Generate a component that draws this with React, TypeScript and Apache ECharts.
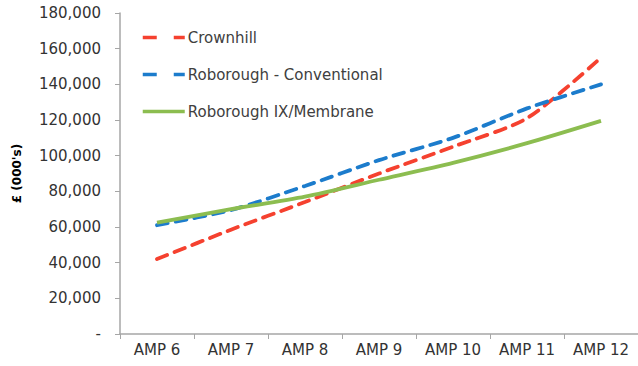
import React, { useEffect, useRef } from "react";
import * as echarts from "echarts";

const categories = ["AMP 6", "AMP 7", "AMP 8", "AMP 9", "AMP 10", "AMP 11", "AMP 12"];
const crownhill = [42000, 58500, 74000, 90000, 105000, 121000, 155000];
const roboroughConventional = [61000, 69500, 83000, 97500, 110000, 126500, 140000];
const roboroughMembrane = [62500, 70000, 77000, 86500, 96000, 107000, 119500];

const seriesNames = ["Crownhill", "Roborough - Conventional", "Roborough IX/Membrane"];
const yTicks = { min: 0, max: 180000, interval: 20000 };

export default function App() {
  const ref = useRef<HTMLDivElement>(null);
  useEffect(() => {
    document.body.style.margin = "0";
    const chart = echarts.init(ref.current!, null, { renderer: "svg" });
    const font = "'DejaVu Sans', 'Liberation Sans', Arial, sans-serif";
    const colors = ["#f5412f", "#1c7ccc", "#8cbd50"];
    const mk = (name: string, data: number[], color: string, dashed: boolean) => ({
      name,
      type: "line",
      data,
      smooth: 0.25,
      symbol: "none",
      lineStyle: {
        color,
        width: 3.8,
        type: dashed ? [11, 8] : "solid",
        cap: dashed ? "round" : "butt",
      },
      itemStyle: { color },
    });
    chart.setOption({
      animation: false,
      backgroundColor: "#ffffff",
      grid: { left: 120, right: -3, top: 13, bottom: 32, containLabel: false },
      legend: {
        orient: "vertical",
        left: 141,
        top: 30,
        padding: 0,
        itemWidth: 42,
        itemHeight: 14,
        itemGap: 22,
        itemStyle: { opacity: 0 },
        data: seriesNames.map((n, i) => ({
          name: n,
          lineStyle: {
            color: colors[i],
            width: 3.5,
            type: i < 2 ? [14, 17] : "solid",
            cap: "butt",
          },
        })),
        textStyle: { fontSize: 15, color: "#404040", fontFamily: font, padding: [0, 0, 0, -2] },
      },
      xAxis: {
        type: "category",
        data: categories,
        boundaryGap: true,
        axisLine: { lineStyle: { color: "#a6a6a6", width: 1.5 } },
        axisTick: { show: true, length: 5, lineStyle: { color: "#a6a6a6" } },
        axisLabel: { fontSize: 15, color: "#333333", fontFamily: font, margin: 8 },
        splitLine: { show: false },
      },
      yAxis: {
        type: "value",
        min: yTicks.min,
        max: yTicks.max,
        interval: yTicks.interval,
        name: "£ (000's)",
        nameLocation: "middle",
        nameGap: 97,
        nameTextStyle: { fontSize: 12, fontWeight: "bold", color: "#000000", fontFamily: font },
        axisLine: { show: true, lineStyle: { color: "#a6a6a6", width: 1.5 } },
        axisTick: { show: true, length: 5, lineStyle: { color: "#a6a6a6" } },
        axisLabel: {
          fontSize: 15,
          color: "#333333",
          fontFamily: font,
          margin: 19,
          formatter: (v: number) => (v === 0 ? "-" : v.toLocaleString("en-US")),
        },
        splitLine: { show: false },
      },
      series: [
        mk(seriesNames[0], crownhill, colors[0], true),
        mk(seriesNames[1], roboroughConventional, colors[1], true),
        mk(seriesNames[2], roboroughMembrane, colors[2], false),
      ],
    });
    return () => chart.dispose();
  }, []);
  return <div ref={ref} style={{ width: 638, height: 366 }} />;
}
